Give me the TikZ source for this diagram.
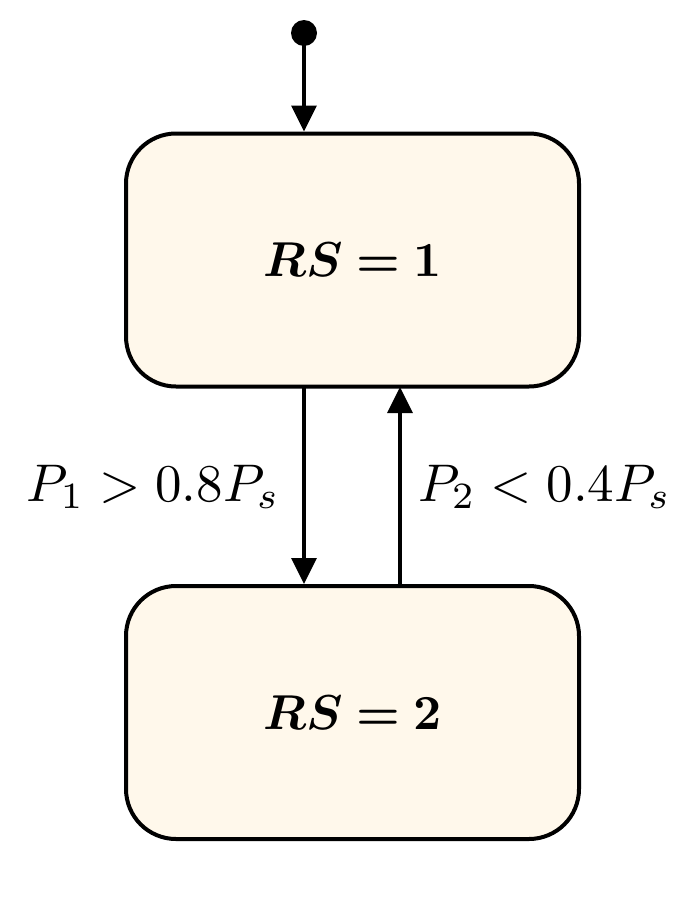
\documentclass[tikz,border=0pt]{standalone}
\usepackage{graphicx}
\usepackage{amsmath,bm}
\usetikzlibrary{arrows.meta}
\definecolor{boxfill}{HTML}{FFF8EB}
\newcommand{\bigtxt}[1]{\scalebox{4.9}{#1}}
\newcommand{\lbltxt}[1]{\scalebox{5.3}{#1}}
\tikzset{
  statebox/.style={draw=black, line width=4pt, fill=boxfill, rounded corners=50pt,
    minimum width=453pt, minimum height=253pt, inner sep=0pt},
  conn/.style={line width=3.5pt, -{Triangle[length=26pt,width=25pt]}},
  lbl/.style={inner sep=0pt}
}
\begin{document}
\begin{tikzpicture}[x=1pt,y=-1pt]
\useasboundingbox (0,0) rectangle (692,916);
\node[statebox] (s1) at (352.5,260) {\bigtxt{$\bm{RS=1}$}};
\node[statebox] (s2) at (352.5,712.5) {\bigtxt{$\bm{RS=2}$}};
\node[circle, fill=black, inner sep=0pt, minimum size=26pt] (init) at (304,33) {};
\draw[conn] (init.center) -- (init.center |- s1.north);
\coordinate (d1) at (304,387);
\coordinate (u1) at (400,387);
\draw[conn] (d1) -- (d1 |- s2.north);
\draw[conn] (u1 |- s2.north) -- (u1);
\node[lbl, anchor=base east] (l1) at (280,501) {\lbltxt{$P_1>0.8P_s$}};
\node[lbl, anchor=base west] (l2) at (418,501) {\lbltxt{$P_2<0.4P_s$}};
\end{tikzpicture}
\end{document}
